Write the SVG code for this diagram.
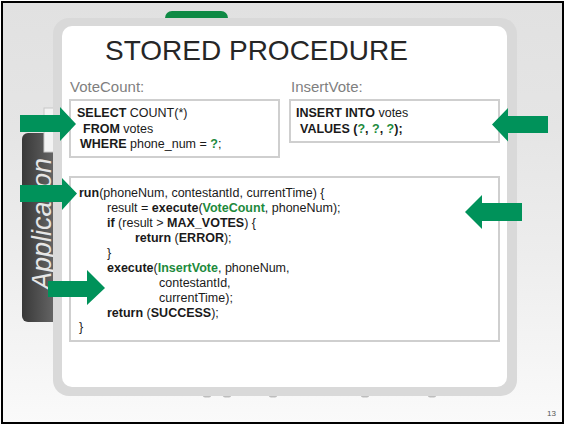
<svg xmlns="http://www.w3.org/2000/svg" width="565" height="426" viewBox="0 0 565 426">
  <defs>
    <linearGradient id="bg" x1="0" y1="0" x2="0" y2="1">
      <stop offset="0" stop-color="#e1e1e1"/>
      <stop offset="0.3" stop-color="#e5e5e5"/>
      <stop offset="0.6" stop-color="#ededed"/>
      <stop offset="0.85" stop-color="#f5f5f5"/>
      <stop offset="1" stop-color="#fafafa"/>
    </linearGradient>
    <linearGradient id="tabFill" x1="0" y1="0" x2="1" y2="0">
      <stop offset="0" stop-color="#383838"/>
      <stop offset="1" stop-color="#707070"/>
    </linearGradient>
    <style>
      .code { font-family: "Liberation Sans", Arial, sans-serif; font-size: 12.5px; fill: #1a1a1a; }
      .b { font-weight: bold; }
      .g { fill: #1d8a3c; font-weight: bold; }
      .label { font-family: "Liberation Sans", Arial, sans-serif; font-size: 15px; fill: #7f7f7f; }
      .box { fill: #ffffff; stroke: #cfcfcf; stroke-width: 2; }
      .arrow { fill: #00925a; }
    </style>
  </defs>

  <!-- slide background and frame -->
  <rect x="0" y="0" width="565" height="426" fill="#ffffff"/>
  <rect x="2" y="2" width="561" height="421" fill="url(#bg)" stroke="#000000" stroke-width="2"/>

  <!-- green tab peeking above the panel -->
  <rect x="165" y="11" width="63" height="20" rx="7" fill="#0f8a45"/>

  <!-- dark side tab with rotated caption -->
  <g id="application-tab">
    <rect x="22" y="133" width="40" height="189" rx="6" fill="url(#tabFill)"/>
    <text transform="translate(51,290) rotate(-90)" font-family="'Liberation Sans', Arial, sans-serif" font-size="27" font-style="italic" fill="#e6e6e6">Application</text>
    <rect x="44" y="108" width="20" height="44" fill="#f3f3f3" stroke="#c8c8c8" stroke-width="1"/>
  </g>

  <!-- small marks under the panel -->
  <g fill="#bdbdbd">
    <ellipse cx="207" cy="396" rx="4" ry="1.5"/>
    <ellipse cx="227" cy="396" rx="4" ry="1.5"/>
    <ellipse cx="273" cy="396" rx="4" ry="1.5"/>
    <ellipse cx="365" cy="396" rx="4" ry="1.5"/>
    <ellipse cx="432" cy="396" rx="4" ry="1.5"/>
  </g>

  <!-- main panel -->
  <g id="panel">
    <rect x="53" y="18" width="464" height="378" rx="16" fill="#d9d9d9"/>
    <rect x="62" y="26" width="445" height="361" rx="10" fill="#ffffff"/>
    <text x="105" y="60" font-family="'Liberation Sans', Arial, sans-serif" font-size="28" fill="#262626">STORED PROCEDURE</text>
  </g>

  <!-- VoteCount query -->
  <g id="votecount">
    <text class="label" x="70" y="92">VoteCount:</text>
    <rect class="box" x="70" y="100" width="209" height="57"/>
    <text class="code" x="77" y="117"><tspan class="b">SELECT</tspan> COUNT(*)</text>
    <text class="code" x="83" y="133"><tspan class="b">FROM</tspan> votes</text>
    <text class="code" x="80" y="148"><tspan class="b">WHERE</tspan> phone_num = <tspan class="g">?</tspan>;</text>
  </g>

  <!-- InsertVote query -->
  <g id="insertvote">
    <text class="label" x="291" y="92">InsertVote:</text>
    <rect class="box" x="290" y="100" width="209" height="42"/>
    <text class="code" x="296" y="117"><tspan class="b">INSERT INTO</tspan> votes</text>
    <text class="code b" x="300" y="133">VALUES (<tspan class="g">?</tspan>, <tspan class="g">?</tspan>, <tspan class="g">?</tspan>);</text>
  </g>

  <!-- run() procedure body -->
  <g id="run-procedure">
    <rect class="box" x="70" y="177" width="429" height="164"/>
    <text class="code" x="79" y="197"><tspan class="b">run</tspan>(phoneNum, contestantId, currentTime) {</text>
    <text class="code" x="107" y="212">result = <tspan class="b">execute</tspan>(<tspan class="g">VoteCount</tspan>, phoneNum);</text>
    <text class="code" x="107" y="227"><tspan class="b">if</tspan> (result &gt; <tspan class="b">MAX_VOTES</tspan>) {</text>
    <text class="code" x="135" y="242"><tspan class="b">return</tspan> (<tspan class="b">ERROR</tspan>);</text>
    <text class="code" x="107" y="257">}</text>
    <text class="code" x="107" y="271.5"><tspan class="b">execute</tspan>(<tspan class="g">InsertVote</tspan>, phoneNum,</text>
    <text class="code" x="159" y="286.5">contestantId,</text>
    <text class="code" x="159" y="301.5">currentTime);</text>
    <text class="code" x="107" y="316.5"><tspan class="b">return</tspan> (<tspan class="b">SUCCESS</tspan>);</text>
    <text class="code" x="79" y="331">}</text>
  </g>

  <!-- block arrows -->
  <g id="arrows" class="arrow">
    <polygon points="20,115 60,115 60,107 76,124 60,141 60,132 20,132"/>
    <polygon points="20,185 62,185 62,178 77,193.5 62,210 62,202 20,202"/>
    <polygon points="48,281 87,281 87,270 105,288 87,305 87,297 48,297"/>
    <polygon points="548,116 508,116 508,108 492,124.5 508,141.5 508,133 548,133"/>
    <polygon points="522,203 482,203 482,195 465,212 482,229 482,221 522,221"/>
  </g>

  <!-- page number -->
  <text x="547" y="416" font-family="'Liberation Sans', Arial, sans-serif" font-size="8" fill="#555555">13</text>
</svg>
